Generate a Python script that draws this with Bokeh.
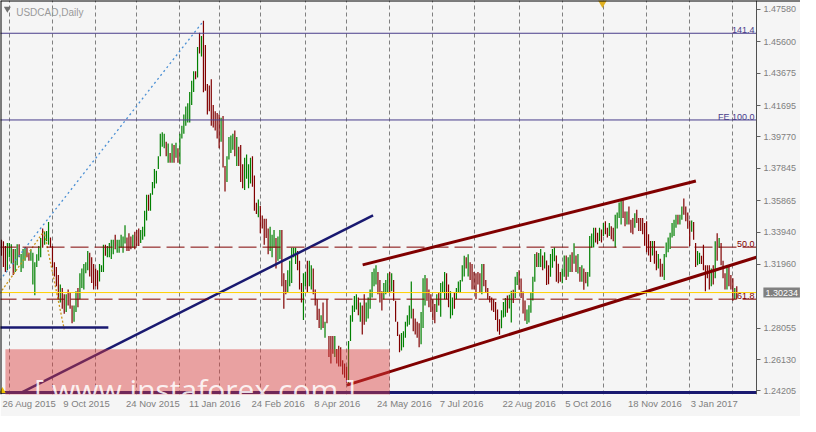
import pandas as pd
from bokeh.plotting import figure
from bokeh.models import (ColumnDataSource, Range1d, FixedTicker,
                          PrintfTickFormatter, Span, BoxAnnotation, Label)
from bokeh.embed import file_html
from bokeh.resources import INLINE

# ---------------------------------------------------------------- data
symbol_title = "USDCAD,Daily"
first_bar_date = "2015-08-26"
last_bar_date = "2017-02-03"
market_closed = ["2015-12-25", "2016-01-01"]

bar_high = [
    1.3347, 1.3337, 1.3308, 1.3327, 1.3327, 1.3319, 1.3290, 1.3290, 1.3319, 1.3319,
    1.3260, 1.3290, 1.3298, 1.3298, 1.3268, 1.3288, 1.3268, 1.3209, 1.3258, 1.3308,
    1.3357, 1.3416, 1.3396, 1.3400, 1.3455, 1.3360, 1.3308, 1.3209, 1.3180, 1.3131,
    1.3072, 1.3052, 1.3013, 1.3013, 1.3042, 1.3022, 1.2944, 1.2944, 1.3032, 1.3052,
    1.3141, 1.3170, 1.3199, 1.3209, 1.3278, 1.3268, 1.3239, 1.3199, 1.3170, 1.3160,
    1.3199, 1.3190, 1.3317, 1.3317, 1.3308, 1.3327, 1.3347, 1.3347, 1.3377, 1.3347,
    1.3347, 1.3377, 1.3367, 1.3436, 1.3360, 1.3386, 1.3367, 1.3377, 1.3396, 1.3406,
    1.3416, 1.3406, 1.3426, 1.3524, 1.3622, 1.3622, 1.3632, 1.3701, 1.3780, 1.3770,
    1.3858, 1.3996, 1.4006, 1.3996, 1.3947, 1.3937, 1.3878, 1.3937, 1.3927, 1.3941,
    1.3908, 1.3996, 1.4045, 1.4115, 1.4164, 1.4183, 1.4252, 1.4321, 1.4380, 1.4380,
    1.4528, 1.4616, 1.4596, 1.4689, 1.4540, 1.4301, 1.4292, 1.4331, 1.4173, 1.4134,
    1.4124, 1.4115, 1.4095, 1.4105, 1.3799, 1.3858, 1.3976, 1.3986, 1.3996, 1.4016,
    1.3976, 1.3917, 1.3927, 1.3809, 1.3849, 1.3870, 1.3809, 1.3849, 1.3858, 1.3740,
    1.3573, 1.3593, 1.3554, 1.3495, 1.3475, 1.3475, 1.3416, 1.3426, 1.3377, 1.3406,
    1.3357, 1.3367, 1.3406, 1.3406, 1.3141, 1.3101, 1.3160, 1.3219, 1.3298, 1.3298,
    1.3298, 1.3278, 1.3219, 1.3082, 1.3141, 1.3150, 1.3219, 1.3219, 1.3190, 1.3170,
    1.3042, 1.2983, 1.2924, 1.2884, 1.2963, 1.2845, 1.2983, 1.2757, 1.2757, 1.2757,
    1.2757, 1.2678, 1.2698, 1.2688, 1.2609, 1.2589, 1.2570, 1.2727, 1.2884, 1.2944,
    1.3003, 1.3013, 1.2993, 1.2963, 1.2944, 1.3013, 1.2963, 1.2993, 1.3042, 1.3150,
    1.3170, 1.3190, 1.3150, 1.3101, 1.3032, 1.3082, 1.3101, 1.3141, 1.3150, 1.3141,
    1.3101, 1.2973, 1.2845, 1.2766, 1.2776, 1.2786, 1.2845, 1.2884, 1.2944, 1.3091,
    1.2924, 1.2865, 1.2845, 1.2835, 1.2904, 1.3111, 1.3131, 1.3111, 1.3042, 1.3013,
    1.2983, 1.2953, 1.3013, 1.3022, 1.3082, 1.3091, 1.3150, 1.3141, 1.3072, 1.3032,
    1.2993, 1.3022, 1.3052, 1.3091, 1.3101, 1.3190, 1.3249, 1.3239, 1.3258, 1.3209,
    1.3199, 1.3150, 1.3141, 1.3150, 1.3141, 1.3199, 1.3199, 1.3101, 1.3052, 1.3003,
    1.2993, 1.2983, 1.2965, 1.2920, 1.2860, 1.2915, 1.2965, 1.2990, 1.3005, 1.3010,
    1.3035, 1.3040, 1.3120, 1.3150, 1.3160, 1.3110, 1.3030, 1.2975, 1.2920, 1.2945,
    1.3025, 1.3120, 1.3260, 1.3270, 1.3265, 1.3290, 1.3250, 1.3270, 1.3220, 1.3190,
    1.3260, 1.3290, 1.3300, 1.3250, 1.3200, 1.3150, 1.3170, 1.3250, 1.3250, 1.3240,
    1.3255, 1.3270, 1.3325, 1.3250, 1.3260, 1.3180, 1.3190, 1.3170, 1.3150, 1.3150,
    1.3370, 1.3385, 1.3420, 1.3420, 1.3390, 1.3420, 1.3410, 1.3450, 1.3460, 1.3420,
    1.3450, 1.3430, 1.3420, 1.3500, 1.3514, 1.3575, 1.3593, 1.3590, 1.3520, 1.3520,
    1.3550, 1.3470, 1.3480, 1.3510, 1.3530, 1.3480, 1.3480, 1.3480, 1.3450, 1.3460,
    1.3380, 1.3340, 1.3340, 1.3340, 1.3280, 1.3260, 1.3230, 1.3200, 1.3260, 1.3330,
    1.3360, 1.3390, 1.3450, 1.3470, 1.3500, 1.3500, 1.3500, 1.3550, 1.3600, 1.3550,
    1.3514, 1.3465, 1.3465, 1.3455, 1.3327, 1.3278, 1.3268, 1.3249, 1.3317, 1.3190,
    1.3190, 1.3190, 1.3170, 1.3190, 1.3337, 1.3386, 1.3357, 1.3327, 1.3219, 1.3141,
    1.3180, 1.3180, 1.3131, 1.3111, 1.3052, 1.3062,
]

bar_low = [
    1.3249, 1.3180, 1.3150, 1.3160, 1.3239, 1.3201, 1.3131, 1.3150, 1.3190, 1.3239,
    1.3150, 1.3172, 1.3219, 1.3239, 1.3219, 1.3219, 1.3072, 1.3007, 1.3180, 1.3219,
    1.3239, 1.3298, 1.3317, 1.3337, 1.3317, 1.3300, 1.3180, 1.3121, 1.3062, 1.2983,
    1.2963, 1.2924, 1.2894, 1.2904, 1.2944, 1.2924, 1.2835, 1.2845, 1.2904, 1.2934,
    1.2983, 1.3052, 1.3042, 1.3141, 1.3160, 1.3121, 1.3082, 1.3042, 1.3062, 1.3042,
    1.3091, 1.3150, 1.3150, 1.3249, 1.3239, 1.3239, 1.3229, 1.3258, 1.3288, 1.3268,
    1.3268, 1.3298, 1.3268, 1.3324, 1.3278, 1.3278, 1.3288, 1.3298, 1.3288, 1.3308,
    1.3308, 1.3327, 1.3347, 1.3367, 1.3465, 1.3524, 1.3524, 1.3622, 1.3662, 1.3691,
    1.3780, 1.3858, 1.3917, 1.3908, 1.3858, 1.3819, 1.3819, 1.3819, 1.3819, 1.3849,
    1.3819, 1.3809, 1.3967, 1.3996, 1.4045, 1.4065, 1.4065, 1.4173, 1.4252, 1.4331,
    1.4341, 1.4488, 1.4469, 1.4250, 1.4260, 1.4115, 1.4134, 1.4045, 1.4035, 1.4016,
    1.3967, 1.3908, 1.3947, 1.3790, 1.3642, 1.3701, 1.3839, 1.3878, 1.3898, 1.3858,
    1.3799, 1.3799, 1.3701, 1.3662, 1.3652, 1.3720, 1.3662, 1.3691, 1.3672, 1.3524,
    1.3504, 1.3485, 1.3386, 1.3416, 1.3317, 1.3357, 1.3258, 1.3278, 1.3239, 1.3298,
    1.3170, 1.3219, 1.3229, 1.3062, 1.2924, 1.3013, 1.3022, 1.3062, 1.3082, 1.3239,
    1.3199, 1.3160, 1.3042, 1.2963, 1.2855, 1.3062, 1.3022, 1.3062, 1.3042, 1.3013,
    1.2944, 1.2855, 1.2806, 1.2796, 1.2806, 1.2747, 1.2835, 1.2629, 1.2589, 1.2648,
    1.2629, 1.2589, 1.2570, 1.2570, 1.2521, 1.2501, 1.2471, 1.2462, 1.2727, 1.2845,
    1.2904, 1.2920, 1.2884, 1.2845, 1.2766, 1.2826, 1.2845, 1.2865, 1.2924, 1.2993,
    1.3062, 1.3072, 1.3013, 1.2963, 1.2914, 1.2983, 1.3013, 1.3022, 1.3022, 1.3032,
    1.2973, 1.2845, 1.2757, 1.2658, 1.2668, 1.2688, 1.2747, 1.2816, 1.2826, 1.2865,
    1.2786, 1.2766, 1.2747, 1.2688, 1.2707, 1.2806, 1.2944, 1.2973, 1.2934, 1.2904,
    1.2855, 1.2835, 1.2904, 1.2944, 1.2875, 1.3022, 1.2983, 1.2983, 1.2934, 1.2865,
    1.2884, 1.2924, 1.2983, 1.3022, 1.3022, 1.3091, 1.3121, 1.3170, 1.3121, 1.3101,
    1.3042, 1.3042, 1.2983, 1.3072, 1.3022, 1.3013, 1.3062, 1.3022, 1.2983, 1.2963,
    1.2914, 1.2904, 1.2855, 1.2785, 1.2765, 1.2805, 1.2870, 1.2875, 1.2900, 1.2925,
    1.2840, 1.2960, 1.2990, 1.3070, 1.3040, 1.2990, 1.2895, 1.2850, 1.2830, 1.2840,
    1.2900, 1.2975, 1.3090, 1.3180, 1.3180, 1.3180, 1.3160, 1.3170, 1.3070, 1.3075,
    1.3120, 1.3175, 1.3215, 1.3090, 1.3080, 1.3090, 1.3080, 1.3120, 1.3100, 1.3120,
    1.3150, 1.3150, 1.3200, 1.3150, 1.3140, 1.3090, 1.3090, 1.3040, 1.3080, 1.3060,
    1.3120, 1.3300, 1.3300, 1.3330, 1.3320, 1.3340, 1.3330, 1.3370, 1.3380, 1.3360,
    1.3370, 1.3350, 1.3337, 1.3300, 1.3416, 1.3480, 1.3440, 1.3480, 1.3430, 1.3440,
    1.3440, 1.3390, 1.3380, 1.3420, 1.3450, 1.3400, 1.3400, 1.3380, 1.3310, 1.3270,
    1.3250, 1.3210, 1.3250, 1.3200, 1.3160, 1.3170, 1.3120, 1.3120, 1.3100, 1.3240,
    1.3270, 1.3290, 1.3360, 1.3370, 1.3420, 1.3440, 1.3440, 1.3470, 1.3500, 1.3460,
    1.3414, 1.3308, 1.3396, 1.3347, 1.3180, 1.3190, 1.3199, 1.3199, 1.3160, 1.3032,
    1.3111, 1.3042, 1.3062, 1.3072, 1.3111, 1.3219, 1.3298, 1.3190, 1.3111, 1.3042,
    1.3042, 1.3062, 1.3042, 1.2973, 1.2983, 1.2983,
]

# G = bull bar, R = bear bar
bar_direction = (
    "RRRGGGRGGR" "GGGRRGGGGG" "GRGGGRRRRR" "GRRGRRRGGR" "GGGGGRRRRR"
    "GGGRGGGGRG" "GGGGRRRGRR" "RGGGGRGGGG" "GGGGRGRGRG" "RGGGGGGGGR"
    "GRGRRRRRRR" "RRGRRGGGGR" "GRRRGGGGRR" "RGRRRRRGGG" "RGGRRRGGGG"
    "GRRRGGRGGR" "RRRGRGRRRR" "GRRRRRRGGG" "GGRGRRGGGG" "GGRRRGGGRG"
    "RRRRGGGGGG" "RRRRGGGRRR" "RRGRGGGRRG" "GRGGGGGRGR" "RRRRRGRRRR"
    "RRRRRGGGRG" "GRGGRRRRGG" "GGGRGGRGRR" "GGGRRRGGRG" "GRGRGRGRRG"
    "GGGRRGRGRR" "GRRGGGGRRG" "RRRGRRRRRR" "RRGRRGRRGG" "GGGGGRGGRR"
    "RRGRRGGRRR" "RRGRGRGRRR" "GRRRGR"
)

price_ticks = [1.47580, 1.45600, 1.43675, 1.41695, 1.39770, 1.37845,
               1.35865, 1.33940, 1.31960, 1.28055, 1.26130, 1.24205]
date_labels = ["26 Aug 2015", "9 Oct 2015", "24 Nov 2015", "11 Jan 2016",
               "24 Feb 2016", "8 Apr 2016", "24 May 2016", "7 Jul 2016",
               "22 Aug 2016", "5 Oct 2016", "18 Nov 2016", "3 Jan 2017"]
last_price = 1.30234

fe_level_names = ["141.4", "FE 100.0"]
fe_level_prices = [1.46122, 1.40809]
fibo_level_names = ["50.0", "61.8"]
fibo_level_prices = [1.33017, 1.29829]
support_price = 1.24115
short_support_price = 1.28088
short_support_bars = [-1.0, 54.5]

navy_trend_bars = [10.35, 189.5]
navy_trend_prices = [1.24120, 1.34965]
upper_channel_bars = [184.2, 354.15]
upper_channel_prices = [1.31930, 1.37070]
lower_channel_bars = [176.15, 385.0]
lower_channel_prices = [1.24558, 1.32397]
fibo_anchor_bars = [-78.0, 102.85]
fibo_anchor_prices = [1.19185, 1.46848]
fe_path_bars = [-54.0, 21.7, 32.0]
fe_path_prices = [1.21170, 1.34000, 1.27980]

watermark_text = "[ www.instaforex.com ]"

# ---------------------------------------------------------------- layout
WIDTH, HEIGHT = 800, 416
FRAME_H = 394
X_START = -0.5
CHART_END = 385.0              # bar position of the price-scale line
X_END = X_START + 816 / 2.0    # frame covers the price-scale area as well
Y_TOP, Y_BOTTOM = 1.48129, 1.23987
REF_FRAME_H = 409.0
PPX = (Y_TOP - Y_BOTTOM) / REF_FRAME_H          # price per reference pixel
MY_PX_PER_BAR = WIDTH / (X_END - X_START)


def bar_at(ref_x):
    return (ref_x - 1.0) / 2.0


def price_at(ref_y):
    return Y_TOP - ref_y * PPX


dates = [d for d in pd.bdate_range(first_bar_date, last_bar_date)
         if d.strftime("%Y-%m-%d") not in market_closed]
n = min(len(dates), len(bar_high), len(bar_low), len(bar_direction))
dates = dates[:n]
bar_index = list(range(n))
month_starts = [i for i in range(1, n) if dates[i].month != dates[i - 1].month]
date_pos = {d.strftime("%Y-%m-%d"): i for i, d in enumerate(dates)}

CHAR_W = {c: 0.556 for c in "0123456789"}
CHAR_W.update({" ": 0.278, "A": 0.667, "u": 0.556, "g": 0.556, "O": 0.778,
               "c": 0.5, "t": 0.278, "N": 0.722, "o": 0.556, "v": 0.5,
               "J": 0.5, "a": 0.556, "n": 0.556, "F": 0.611, "e": 0.556,
               "b": 0.556, "M": 0.833, "r": 0.333, "p": 0.556, "y": 0.5,
               "l": 0.222})


def text_width(s, size):
    return sum(CHAR_W.get(ch, 0.556) for ch in s) * size


DATE_FONT = 9.5
tick_pos, overrides = [], {}
for txt in date_labels:
    key = pd.to_datetime(txt, format="%d %b %Y").strftime("%Y-%m-%d")
    i = date_pos[key]
    left_px = max((i - X_START) * MY_PX_PER_BAR - 1.0, 2.0)
    center = round(X_START + (left_px + text_width(txt, DATE_FONT) / 2) / MY_PX_PER_BAR, 3)
    tick_pos.append(center)
    overrides[center] = txt

BG = "#f5f5f5"
GRAY = "#808080"
BULL, BEAR = "#008000", "#800000"
NAVY = "#191970"
SLATE = "#483d8b"

p = figure(width=WIDTH, height=HEIGHT,
           x_range=Range1d(X_START, X_END), y_range=Range1d(Y_BOTTOM, Y_TOP),
           y_axis_location="right", output_backend="svg", toolbar_location=None,
           min_border_left=0, min_border_top=0, min_border_right=0,
           min_border_bottom=HEIGHT - FRAME_H,
           background_fill_color=BG, border_fill_color=BG)
p.outline_line_color = None

xa = p.xaxis[0]
xa.ticker = FixedTicker(ticks=tick_pos)
xa.major_label_overrides = overrides
xa.major_tick_line_color = None
xa.major_tick_out = 0
xa.major_tick_in = 0
xa.minor_tick_line_color = None
xa.axis_line_color = None
xa.major_label_standoff = 3
xa.major_label_text_font = "Liberation Sans"
xa.major_label_text_font_size = f"{DATE_FONT}px"
xa.major_label_text_color = GRAY

# price scale drawn at the right edge of the chart area
ya = p.yaxis[0]
ya.fixed_location = CHART_END
ya.ticker = FixedTicker(ticks=price_ticks)
ya.formatter = PrintfTickFormatter(format="%.5f")
ya.major_tick_in = 0
ya.major_tick_out = 4
ya.major_tick_line_color = "#606060"
ya.minor_tick_line_color = None
ya.axis_line_color = "#505050"
ya.axis_line_width = 1
ya.major_label_standoff = 3
ya.major_label_text_font = "Liberation Sans"
ya.major_label_text_font_size = "9px"
ya.major_label_text_color = GRAY

p.xgrid.ticker = FixedTicker(ticks=month_starts)
p.xgrid.grid_line_color = GRAY
p.xgrid.grid_line_dash = "4 3"
p.xgrid.grid_line_width = 1
p.ygrid.grid_line_color = None

# window border (top and left)
p.add_layout(Span(location=Y_TOP, dimension="width", line_color="#000000", line_width=2))
p.add_layout(Span(location=X_START, dimension="height", line_color="#000000", line_width=2))

# ---------------------------------------------------------------- bars
colors = [BULL if c == "G" else BEAR for c in bar_direction[:n]]
src = ColumnDataSource(dict(i=bar_index, high=bar_high[:n], low=bar_low[:n], color=colors))
p.segment(x0="i", y0="low", x1="i", y1="high", line_color="color",
          line_width=1.2, source=src)

# ---------------------------------------------------------------- drawn objects
p.line(fibo_anchor_bars, fibo_anchor_prices, line_color="#4a8fd4",
       line_width=1.3, line_dash="2 3")
p.line(fe_path_bars, fe_path_prices, line_color="#c89219",
       line_width=1.3, line_dash="2 2")
p.line(short_support_bars, [short_support_price] * 2, line_color=NAVY, line_width=2.5)
p.line(navy_trend_bars, navy_trend_prices, line_color=NAVY, line_width=2.5)
p.line(upper_channel_bars, upper_channel_prices, line_color=BEAR, line_width=3)
p.line(lower_channel_bars, lower_channel_prices, line_color=BEAR, line_width=3)

n_fe, n_fib = len(fe_level_prices), len(fibo_level_prices)
p.segment(x0=[X_START - 1] * n_fe, x1=[CHART_END] * n_fe,
          y0=fe_level_prices, y1=fe_level_prices, line_color=SLATE, line_width=1)
p.segment(x0=[X_START - 1] * n_fib, x1=[CHART_END] * n_fib,
          y0=fibo_level_prices, y1=fibo_level_prices, line_color=BEAR,
          line_width=1, line_dash="18 6")
p.line([X_START - 1, CHART_END], [last_price] * 2, line_color="#ffd000", line_width=1)
p.line([X_START - 1, CHART_END], [support_price] * 2, line_color=NAVY, line_width=3)

for name, lvl in zip(fe_level_names, fe_level_prices):
    p.add_layout(Label(x=bar_at(769), y=lvl + 3.0 * PPX, text=name, text_align="right",
                       text_baseline="alphabetic", text_font="Liberation Sans",
                       text_font_size="9px", text_color=SLATE))
for name, lvl in zip(fibo_level_names, fibo_level_prices):
    p.add_layout(Label(x=bar_at(769), y=lvl + 3.0 * PPX, text=name, text_align="right",
                       text_baseline="alphabetic", text_font="Liberation Sans",
                       text_font_size="9px", text_color=BEAR))

# markers
p.scatter([bar_at(7)], [price_at(8.5)], marker="inverted_triangle", size=7,
          fill_color="#707070", line_color=None)
p.scatter([bar_at(614)], [price_at(2.5)], marker="inverted_triangle", size=9,
          fill_color="#e0b020", line_color=None)
p.scatter([bar_at(2)], [price_at(405.5)], marker="triangle", size=7,
          fill_color="#f0c000", line_color=None)

# title
p.add_layout(Label(x=bar_at(16), y=price_at(12), text=symbol_title, text_align="left",
                   text_baseline="alphabetic", text_font="Liberation Sans",
                   text_font_size="10px", text_color="#9a9a9a"))

# watermark
p.add_layout(BoxAnnotation(left=bar_at(5), right=bar_at(397), top=price_at(362),
                           bottom=price_at(422), fill_color="#dc3c3c", fill_alpha=0.45,
                           line_color=None))
p.add_layout(Label(x=bar_at(198.5), y=price_at(403.5), text=watermark_text,
                   text_align="center", text_baseline="alphabetic",
                   text_font="Open Sans", text_font_size="30px",
                   text_color="white", text_alpha=0.85))

# current price box on the price scale
p.add_layout(Label(x=CHART_END + 7.0 / MY_PX_PER_BAR, y=last_price, text=f"{last_price:.5f}",
                   text_align="left", text_baseline="middle", text_font="Liberation Sans",
                   text_font_size="9px", text_color="white",
                   background_fill_color="#808080", padding=2))

open("out.html", "w").write(file_html(p, INLINE))
